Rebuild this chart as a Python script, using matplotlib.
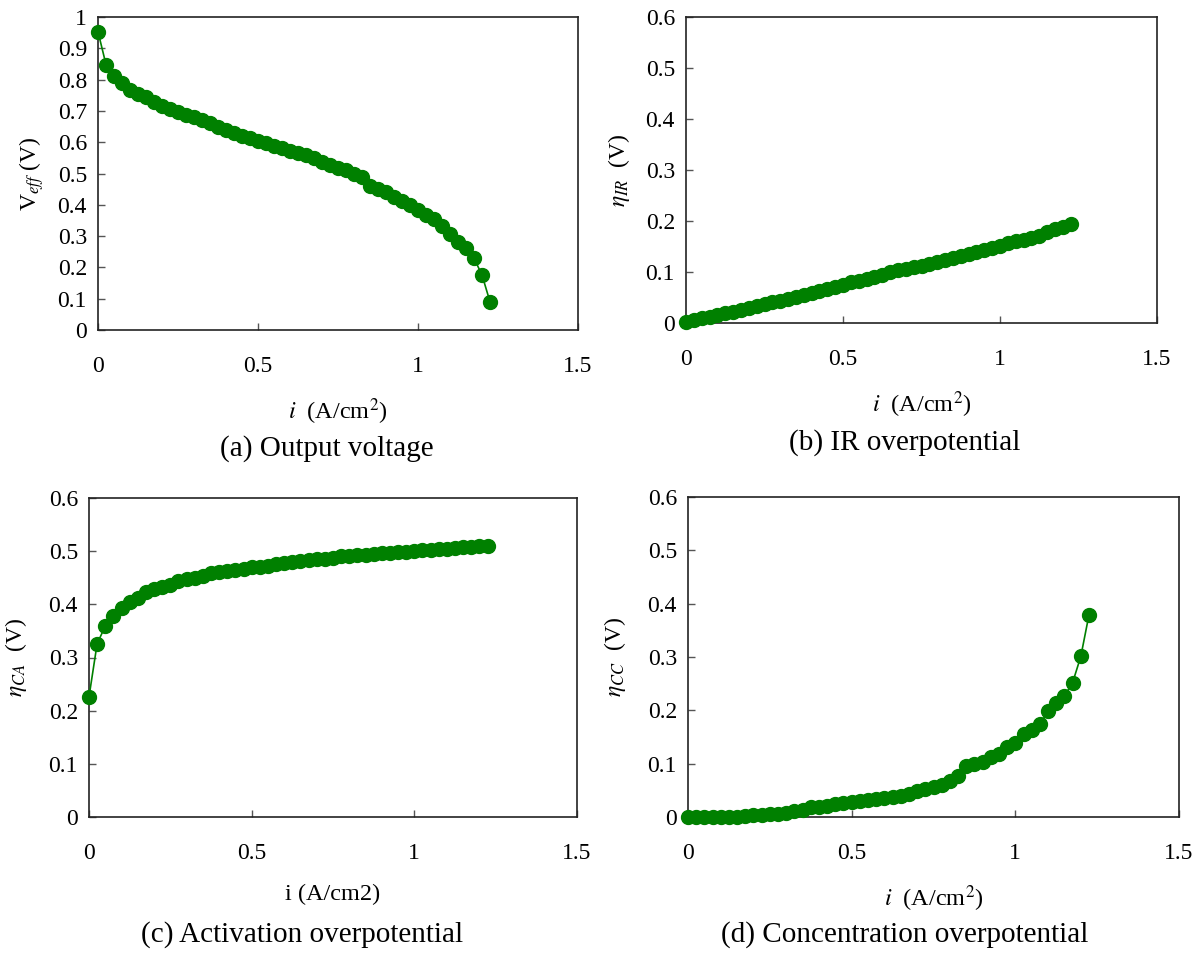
import numpy as np
import matplotlib
matplotlib.use("Agg")
import matplotlib.pyplot as plt
from matplotlib.ticker import FuncFormatter

plt.rcParams['font.family'] = ['Liberation Serif', 'DejaVu Serif']
plt.rcParams['mathtext.fontset'] = 'stix'

# current density (A/cm2)
i_vals = [0.000, 0.025, 0.050, 0.075, 0.100, 0.125, 0.150, 0.175, 0.200, 0.225,
          0.250, 0.275, 0.300, 0.325, 0.350, 0.375, 0.400, 0.425, 0.450, 0.475,
          0.500, 0.525, 0.550, 0.575, 0.600, 0.625, 0.650, 0.675, 0.700, 0.725,
          0.750, 0.775, 0.800, 0.825, 0.850, 0.875, 0.900, 0.925, 0.950, 0.975,
          1.000, 1.025, 1.050, 1.075, 1.100, 1.125, 1.150, 1.175, 1.200, 1.225]

# (a) output voltage
v_eff = [0.953, 0.848, 0.811, 0.790, 0.767, 0.754, 0.743, 0.729, 0.717, 0.705,
         0.697, 0.687, 0.680, 0.671, 0.660, 0.650, 0.639, 0.630, 0.621, 0.613,
         0.603, 0.596, 0.588, 0.580, 0.572, 0.565, 0.558, 0.549, 0.537, 0.528,
         0.519, 0.510, 0.500, 0.490, 0.460, 0.452, 0.442, 0.426, 0.412, 0.398,
         0.383, 0.367, 0.354, 0.333, 0.307, 0.282, 0.261, 0.229, 0.176, 0.090]

# (b) IR overpotential
eta_ir = [0.002, 0.005, 0.009, 0.012, 0.016, 0.019, 0.022, 0.026, 0.030, 0.034,
          0.037, 0.041, 0.044, 0.047, 0.051, 0.054, 0.059, 0.063, 0.066, 0.070,
          0.075, 0.080, 0.083, 0.087, 0.091, 0.095, 0.100, 0.103, 0.106, 0.109,
          0.112, 0.116, 0.119, 0.123, 0.127, 0.131, 0.135, 0.139, 0.143, 0.147,
          0.151, 0.156, 0.160, 0.163, 0.166, 0.171, 0.178, 0.184, 0.189, 0.195]

# (c) activation overpotential
eta_ca = [0.226, 0.326, 0.359, 0.378, 0.393, 0.405, 0.411, 0.423, 0.429, 0.433,
          0.437, 0.443, 0.447, 0.450, 0.453, 0.458, 0.460, 0.463, 0.465, 0.467,
          0.470, 0.471, 0.473, 0.476, 0.478, 0.479, 0.482, 0.483, 0.485, 0.486,
          0.488, 0.490, 0.491, 0.492, 0.493, 0.495, 0.496, 0.497, 0.498, 0.499,
          0.500, 0.502, 0.503, 0.504, 0.505, 0.506, 0.507, 0.508, 0.509, 0.510]

# (d) concentration overpotential
eta_cc = [0.000, 0.000, 0.000, 0.000, 0.000, 0.000, 0.000, 0.001, 0.003, 0.004,
          0.006, 0.006, 0.008, 0.011, 0.014, 0.018, 0.019, 0.020, 0.024, 0.026,
          0.028, 0.030, 0.031, 0.034, 0.036, 0.038, 0.039, 0.044, 0.049, 0.052,
          0.056, 0.060, 0.068, 0.077, 0.096, 0.099, 0.104, 0.113, 0.119, 0.132,
          0.138, 0.155, 0.163, 0.174, 0.198, 0.214, 0.227, 0.252, 0.301, 0.379]

x_ticks = [0, 0.5, 1, 1.5]
y_ticks_a = [0, 0.1, 0.2, 0.3, 0.4, 0.5, 0.6, 0.7, 0.8, 0.9, 1.0]
y_ticks_eta = [0, 0.1, 0.2, 0.3, 0.4, 0.5, 0.6]

GREEN = '#008000'
fig = plt.figure(figsize=(12.01, 9.58), dpi=100)

W, H = 1201, 958
def box(l, t, r, b):
    return [l / W, 1 - b / H, (r - l) / W, (b - t) / H]

panels = [
    (box(98, 17, 578, 330), v_eff, y_ticks_a, 1.0, r'V$_{eff}$ (V)',
     r'$i$  (A/cm$^2$)', '(a) Output voltage', (327, 449), 8),
    (box(686, 17, 1157, 323), eta_ir, y_ticks_eta, 0.6, r'$\eta_{IR}$  (V)',
     r'$i$  (A/cm$^2$)', '(b) IR overpotential', (905, 443), 10),
    (box(89, 498, 577, 817), eta_ca, y_ticks_eta, 0.6, r'$\eta_{CA}$  (V)',
     'i (A/cm2)', '(c) Activation overpotential', (302, 935), 14),
    (box(688, 497, 1179, 817), eta_cc, y_ticks_eta, 0.6, r'$\eta_{CC}$  (V)',
     r'$i$  (A/cm$^2$)', '(d) Concentration overpotential', (905, 935), 14),
]

fmt = FuncFormatter(lambda v, p: '{:g}'.format(round(v, 2)))

for rect, yv, yt, ytop, ylab, xlab, cap, cpos, lpad in panels:
    ax = fig.add_axes(rect)
    ax.plot(i_vals, yv, '-o', color=GREEN, markersize=10, linewidth=1.2,
            clip_on=False, zorder=3)
    ax.set_xlim(0, 1.5)
    ax.set_ylim(0, ytop)
    ax.set_xticks(x_ticks)
    ax.set_yticks(yt)
    ax.xaxis.set_major_formatter(fmt)
    ax.yaxis.set_major_formatter(fmt)
    ax.tick_params(direction='in', length=5, width=1, color='#555555',
                   labelsize=17, top=False, right=False)
    ax.tick_params(axis='x', pad=19)
    ax.tick_params(axis='y', pad=8)
    for s in ax.spines.values():
        s.set_linewidth(1.2)
        s.set_color('#222222')
    ax.set_ylabel(ylab, fontsize=17, labelpad=lpad)
    ax.set_xlabel(xlab, fontsize=17.5, labelpad=14)
    fig.text(cpos[0] / W, 1 - cpos[1] / H, cap, fontsize=21,
             ha='center', va='center')

fig.savefig('out.png', dpi=100)
